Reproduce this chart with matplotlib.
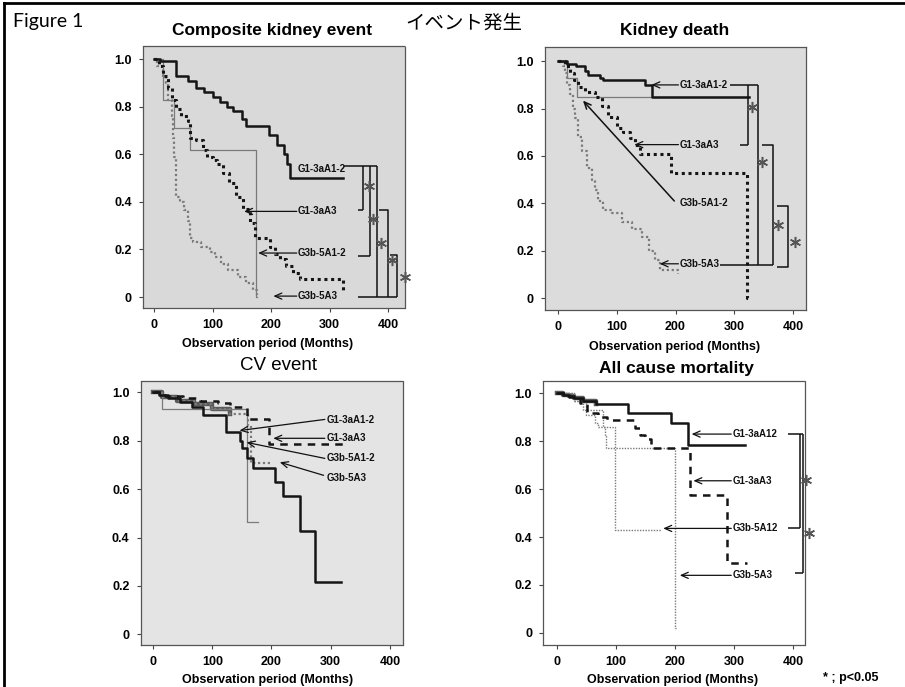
import matplotlib
matplotlib.use('Agg')
import matplotlib.pyplot as plt
from matplotlib.lines import Line2D
from matplotlib import font_manager

avail = {f.name for f in font_manager.fontManager.ttflist}
NARROW = 'Liberation Sans Narrow' if 'Liberation Sans Narrow' in avail else 'Liberation Sans'

# ---------------- data ----------------
x_ticks = [0, 100, 200, 300, 400]
y_ticks = [0, 0.2, 0.4, 0.6, 0.8, 1.0]
y_tick_labels = ['0', '0.2', '0.4', '0.6', '0.8', '1.0']

titles = ['Composite kidney event', 'Kidney death', 'CV event', 'All cause mortality']
x_label = 'Observation period (Months)'

# Composite kidney event
ck_g1a12_t = [0, 10, 38, 58, 72, 85, 100, 113, 125, 135, 150, 158, 196, 210, 222, 228, 232, 323]
ck_g1a12_s = [1.0, 0.99, 0.93, 0.91, 0.88, 0.86, 0.84, 0.82, 0.80, 0.78, 0.75, 0.72, 0.68, 0.64, 0.60, 0.56, 0.50, 0.50]
ck_g1a3_t = [0, 8, 15, 24, 30, 38, 47, 58, 61, 72, 84, 90, 100, 107, 118, 129, 141, 152, 164, 172, 198, 206, 215, 226, 238, 249, 323, 324]
ck_g1a3_s = [1.0, 0.97, 0.93, 0.88, 0.83, 0.79, 0.76, 0.74, 0.67, 0.66, 0.62, 0.59, 0.575, 0.56, 0.52, 0.48, 0.42, 0.37, 0.31, 0.25, 0.21, 0.18, 0.16, 0.13, 0.10, 0.075, 0.03, 0.03]
ck_g3a12_t = [0, 15, 35, 61, 175, 176]
ck_g3a12_s = [1.0, 0.83, 0.71, 0.62, 0.0, 0.0]
ck_g3a3_t = [0, 5, 15, 21, 24, 30, 33, 35, 37, 44, 52, 58, 61, 67, 81, 95, 104, 115, 127, 143, 158, 169, 176]
ck_g3a3_s = [1.0, 0.97, 0.93, 0.90, 0.83, 0.76, 0.67, 0.59, 0.42, 0.40, 0.365, 0.32, 0.25, 0.23, 0.21, 0.19, 0.17, 0.14, 0.115, 0.085, 0.06, 0.03, 0.01]

# Kidney death
kd_g1a12_t = [0, 15, 30, 46, 51, 72, 77, 148, 160, 325]
kd_g1a12_s = [1.0, 0.99, 0.98, 0.96, 0.94, 0.93, 0.92, 0.90, 0.85, 0.85]
kd_g1a3_t = [0, 12, 20, 28, 34, 46, 63, 75, 85, 100, 111, 122, 131, 140, 190, 193, 322, 323]
kd_g1a3_s = [1.0, 0.98, 0.95, 0.92, 0.89, 0.87, 0.85, 0.81, 0.765, 0.72, 0.70, 0.675, 0.645, 0.61, 0.60, 0.53, 0.0, 0.0]
kd_g3a12_t = [0, 15, 32, 322]
kd_g3a12_s = [1.0, 0.93, 0.85, 0.85]
kd_g3a3_t = [0, 8, 12, 16, 20, 25, 29, 34, 41, 49, 58, 63, 68, 77, 92, 109, 126, 143, 155, 165, 173, 204]
kd_g3a3_s = [1.0, 0.98, 0.95, 0.90, 0.86, 0.80, 0.76, 0.68, 0.62, 0.55, 0.50, 0.455, 0.41, 0.37, 0.36, 0.32, 0.29, 0.26, 0.20, 0.16, 0.12, 0.10]

# CV event
cv_g1a12_t = [0, 10, 25, 45, 65, 84, 124, 147, 150, 158, 169, 206, 220, 248, 273, 318]
cv_g1a12_s = [1.0, 0.99, 0.975, 0.96, 0.94, 0.905, 0.837, 0.80, 0.77, 0.73, 0.686, 0.63, 0.57, 0.427, 0.215, 0.215]
cv_g1a3_t = [0, 20, 50, 80, 110, 130, 158, 195, 323]
cv_g1a3_s = [1.0, 0.985, 0.975, 0.965, 0.955, 0.94, 0.89, 0.785, 0.785]
cv_g3a12_t = [0, 15, 158, 178]
cv_g3a12_s = [1.0, 0.93, 0.465, 0.465]
cv_g3a3_t = [0, 15, 40, 70, 100, 130, 160, 165, 200]
cv_g3a3_s = [1.0, 0.98, 0.965, 0.95, 0.93, 0.91, 0.86, 0.71, 0.71]

# All cause mortality
am_g1a12_t = [0, 10, 20, 30, 45, 67, 121, 193, 222, 318]
am_g1a12_s = [1.0, 0.995, 0.99, 0.98, 0.97, 0.955, 0.92, 0.875, 0.785, 0.785]
am_g1a3_t = [0, 20, 40, 51, 70, 85, 132, 141, 150, 160, 225, 287, 321]
am_g1a3_s = [1.0, 0.985, 0.96, 0.92, 0.90, 0.89, 0.855, 0.825, 0.81, 0.77, 0.575, 0.29, 0.29]
am_g3a12_t = [0, 30, 50, 79, 98, 176]
am_g3a12_s = [1.0, 0.97, 0.93, 0.86, 0.43, 0.43]
am_g3a3_t = [0, 30, 45, 50, 65, 70, 82, 84, 200, 201]
am_g3a3_s = [1.0, 0.97, 0.93, 0.91, 0.875, 0.86, 0.82, 0.77, 0.02, 0.02]

# group labels
lab_ck = ['G1-3aA1-2', 'G1-3aA3', 'G3b-5A1-2', 'G3b-5A3']
lab_am = ['G1-3aA12', 'G1-3aA3', 'G3b-5A12', 'G3b-5A3']
sig_note = '* ; p<0.05'

# ---------------- figure ----------------
W, H = 905, 687
fig = plt.figure(figsize=(W / 100, H / 100), dpi=100)
BLACK = '#151515'
GRAY = '#7a7a7a'
FONT = 'Liberation Sans'


def make_ax(l, t, r, b, xlim, ylim, face):
    ax = fig.add_axes([l / W, 1 - b / H, (r - l) / W, (b - t) / H])
    ax.set_facecolor(face)
    ax.set_xlim(*xlim)
    ax.set_ylim(*ylim)
    ax.set_xticks(x_ticks, [str(v) for v in x_ticks], fontsize=9, fontweight='bold', family=FONT)
    ax.set_yticks(y_ticks, y_tick_labels, fontsize=9, fontweight='bold', family=FONT)
    ax.tick_params(length=3, width=0.8, pad=5, color='#444')
    for sp in ax.spines.values():
        sp.set_linestyle((0, (1, 1)))
        sp.set_linewidth(0.9)
        sp.set_color('#555555')
    return ax


def km(ax, t, s, **kw):
    ax.step(t, s, where='post', clip_on=False, **kw)


def label(ax, x, y, txt):
    ax.text(x, y, txt, ha='left', va='center', fontsize=7, fontweight='bold',
            family=NARROW, color='#111', clip_on=False)


def arrow(ax, head, tail, lw=0.9):
    ax.annotate('', xy=head, xytext=tail,
                arrowprops=dict(arrowstyle='->,head_length=0.5,head_width=0.22', lw=lw, color='#111',
                                shrinkA=0, shrinkB=0))


def seg(ax, xs, ys, lw=1.1):
    ax.plot(xs, ys, color='#111', lw=lw, clip_on=False, solid_capstyle='butt')


def star(ax, x, y):
    ax.plot([x], [y], marker=(6, 2, 0), ms=8, mew=1.1, color='#555', clip_on=False)


solid = dict(color=BLACK, lw=1.8)
dotblack = dict(color=BLACK, lw=2.2, linestyle=(0, (1, 1.2)))
thingray = dict(color=GRAY, lw=0.9)
dotgray = dict(color=GRAY, lw=1.6, linestyle=(0, (1, 1.2)))
dashblack = dict(color=BLACK, lw=1.8, linestyle=(0, (3, 2.5)))
dotgray_thin = dict(color=GRAY, lw=1.0, linestyle=(0, (1, 1)))
blob = dict(color='#5a5a5a', lw=3.2)

# ---- panel 1: Composite kidney event
ax1 = make_ax(143, 46, 405, 308, (-18.8, 429), (-0.046, 1.055), '#d9d9d9')
km(ax1, ck_g3a12_t, ck_g3a12_s, **thingray)
km(ax1, ck_g3a3_t, ck_g3a3_s, **dotgray)
km(ax1, ck_g1a3_t, ck_g1a3_s, **dotblack)
km(ax1, ck_g1a12_t, ck_g1a12_s, **solid)
label(ax1, 246, 0.54, lab_ck[0])
label(ax1, 246, 0.36, lab_ck[1])
label(ax1, 246, 0.185, lab_ck[2])
label(ax1, 246, 0.004, lab_ck[3])
arrow(ax1, (154, 0.36), (244, 0.36))
arrow(ax1, (178, 0.185), (244, 0.185))
arrow(ax1, (204, 0.004), (244, 0.004))
seg(ax1, [325, 381], [0.55, 0.55])
seg(ax1, [349, 357], [0.366, 0.366])
seg(ax1, [349, 369], [0.172, 0.172])
seg(ax1, [349, 415], [0.0, 0.0])
seg(ax1, [357, 357], [0.55, 0.366])
seg(ax1, [369, 369], [0.55, 0.172])
seg(ax1, [381, 381], [0.55, 0.0])
seg(ax1, [385, 400, 400], [0.366, 0.366, 0.0])
seg(ax1, [403, 415, 415], [0.176, 0.176, 0.0])
for sx, sy in [(367, 0.466), (374, 0.328), (388, 0.227), (407, 0.155), (429, 0.084)]:
    star(ax1, sx, sy)

# ---- panel 2: Kidney death
ax2 = make_ax(545, 47, 806, 310, (-22, 422), (-0.05, 1.06), '#dcdcdc')
km(ax2, kd_g3a12_t, kd_g3a12_s, **thingray)
km(ax2, kd_g3a3_t, kd_g3a3_s, **dotgray)
km(ax2, kd_g1a3_t, kd_g1a3_s, **dotblack)
km(ax2, kd_g1a12_t, kd_g1a12_s, **solid)
label(ax2, 207, 0.90, lab_ck[0])
label(ax2, 207, 0.648, lab_ck[1])
label(ax2, 207, 0.40, lab_ck[2])
label(ax2, 207, 0.145, lab_ck[3])
arrow(ax2, (159, 0.90), (205, 0.90))
arrow(ax2, (130, 0.648), (205, 0.648))
arrow(ax2, (42.5, 0.834), (198, 0.41), lw=1.1)
arrow(ax2, (173, 0.145), (205, 0.145))
seg(ax2, [292, 340], [0.90, 0.90])
seg(ax2, [310, 323], [0.646, 0.646])
seg(ax2, [276, 366], [0.14, 0.14])
seg(ax2, [323, 323], [0.90, 0.646])
seg(ax2, [340, 340], [0.90, 0.14])
seg(ax2, [347, 366, 366], [0.646, 0.646, 0.14])
seg(ax2, [373, 391.5, 391.5, 373], [0.39, 0.39, 0.13, 0.13])
for sx, sy in [(330, 0.806), (347, 0.574), (374, 0.31), (403, 0.236)]:
    star(ax2, sx, sy)

# ---- panel 3: CV event
ax3 = make_ax(140.7, 380.7, 403, 645, (-20.8, 422), (-0.044, 1.048), '#e4e4e4')
km(ax3, cv_g3a3_t[:6], cv_g3a3_s[:6], **blob)
km(ax3, cv_g3a3_t, cv_g3a3_s, **dotgray)
km(ax3, cv_g3a12_t, cv_g3a12_s, **thingray)
km(ax3, cv_g1a3_t, cv_g1a3_s, **dashblack)
km(ax3, cv_g1a12_t, cv_g1a12_s, **solid)
label(ax3, 293, 0.886, lab_ck[0])
label(ax3, 293, 0.81, lab_ck[1])
label(ax3, 293, 0.727, lab_ck[2])
label(ax3, 293, 0.645, lab_ck[3])
arrow(ax3, (146, 0.842), (290, 0.888))
arrow(ax3, (203, 0.81), (290, 0.81))
arrow(ax3, (158, 0.793), (290, 0.727))
arrow(ax3, (214, 0.711), (288, 0.657))

# ---- panel 4: All cause mortality
ax4 = make_ax(543.3, 380.7, 805, 645, (-22.6, 419.6), (-0.051, 1.053), 'white')
km(ax4, am_g1a12_t[:6], am_g1a12_s[:6], **blob)
km(ax4, am_g3a12_t, am_g3a12_s, **dotgray_thin)
km(ax4, am_g3a3_t, am_g3a3_s, **dotgray_thin)
km(ax4, am_g1a3_t, am_g1a3_s, **dashblack)
km(ax4, am_g1a12_t, am_g1a12_s, **solid)
label(ax4, 297.5, 0.83, lab_am[0])
label(ax4, 297.5, 0.635, lab_am[1])
label(ax4, 297.5, 0.436, lab_am[2])
label(ax4, 297.5, 0.24, lab_am[3])
arrow(ax4, (228, 0.83), (295, 0.83))
arrow(ax4, (231, 0.635), (295, 0.635))
arrow(ax4, (180, 0.436), (295, 0.436))
arrow(ax4, (208, 0.24), (295, 0.24))
seg(ax4, [391, 416], [0.83, 0.83])
seg(ax4, [410.6, 410.6], [0.83, 0.437])
seg(ax4, [391, 410.6], [0.437, 0.437])
seg(ax4, [416, 416], [0.83, 0.248])
seg(ax4, [403, 416], [0.248, 0.248])
star(ax4, 421.5, 0.64)
star(ax4, 427, 0.417)

# ---- figure texts
def ftext(px, py, s, **kw):
    fig.text(px / W, 1 - py / H, s, ha='center', va='center', **kw)

ftext(272.5, 31, titles[0], fontsize=12.5, fontweight='bold', family=FONT)
ftext(675, 31, titles[1], fontsize=12.5, fontweight='bold', family=FONT)
ftext(278.5, 366, titles[2], fontsize=13.5, family=FONT)
ftext(676.5, 369, titles[3], fontsize=12.5, fontweight='bold', family=FONT)
for cx, cy in [(268, 344), (675, 347), (268, 680.5), (673, 680.5)]:
    ftext(cx, cy, x_label, fontsize=9, fontweight='bold', family=FONT)
fig.text(13 / W, 1 - 22 / H, 'Figure 1', ha='left', va='center', fontsize=14, family='Lato')
fig.text(405 / W, 1 - 23 / H, 'イベント発生', ha='left', va='center', fontsize=14,
         family=['Noto Sans CJK JP', 'DejaVu Sans'])
fig.text(823 / W, 1 - 678 / H, sig_note, ha='left', va='center', fontsize=9,
         fontweight='bold', family=FONT)

# frame
fig.add_artist(Line2D([4 / W, 1], [1 - 3 / H, 1 - 3 / H], color='black', lw=2, transform=fig.transFigure))
fig.add_artist(Line2D([4 / W, 4 / W], [0, 1 - 3 / H], color='black', lw=2, transform=fig.transFigure))

fig.savefig('out.png', dpi=100)
